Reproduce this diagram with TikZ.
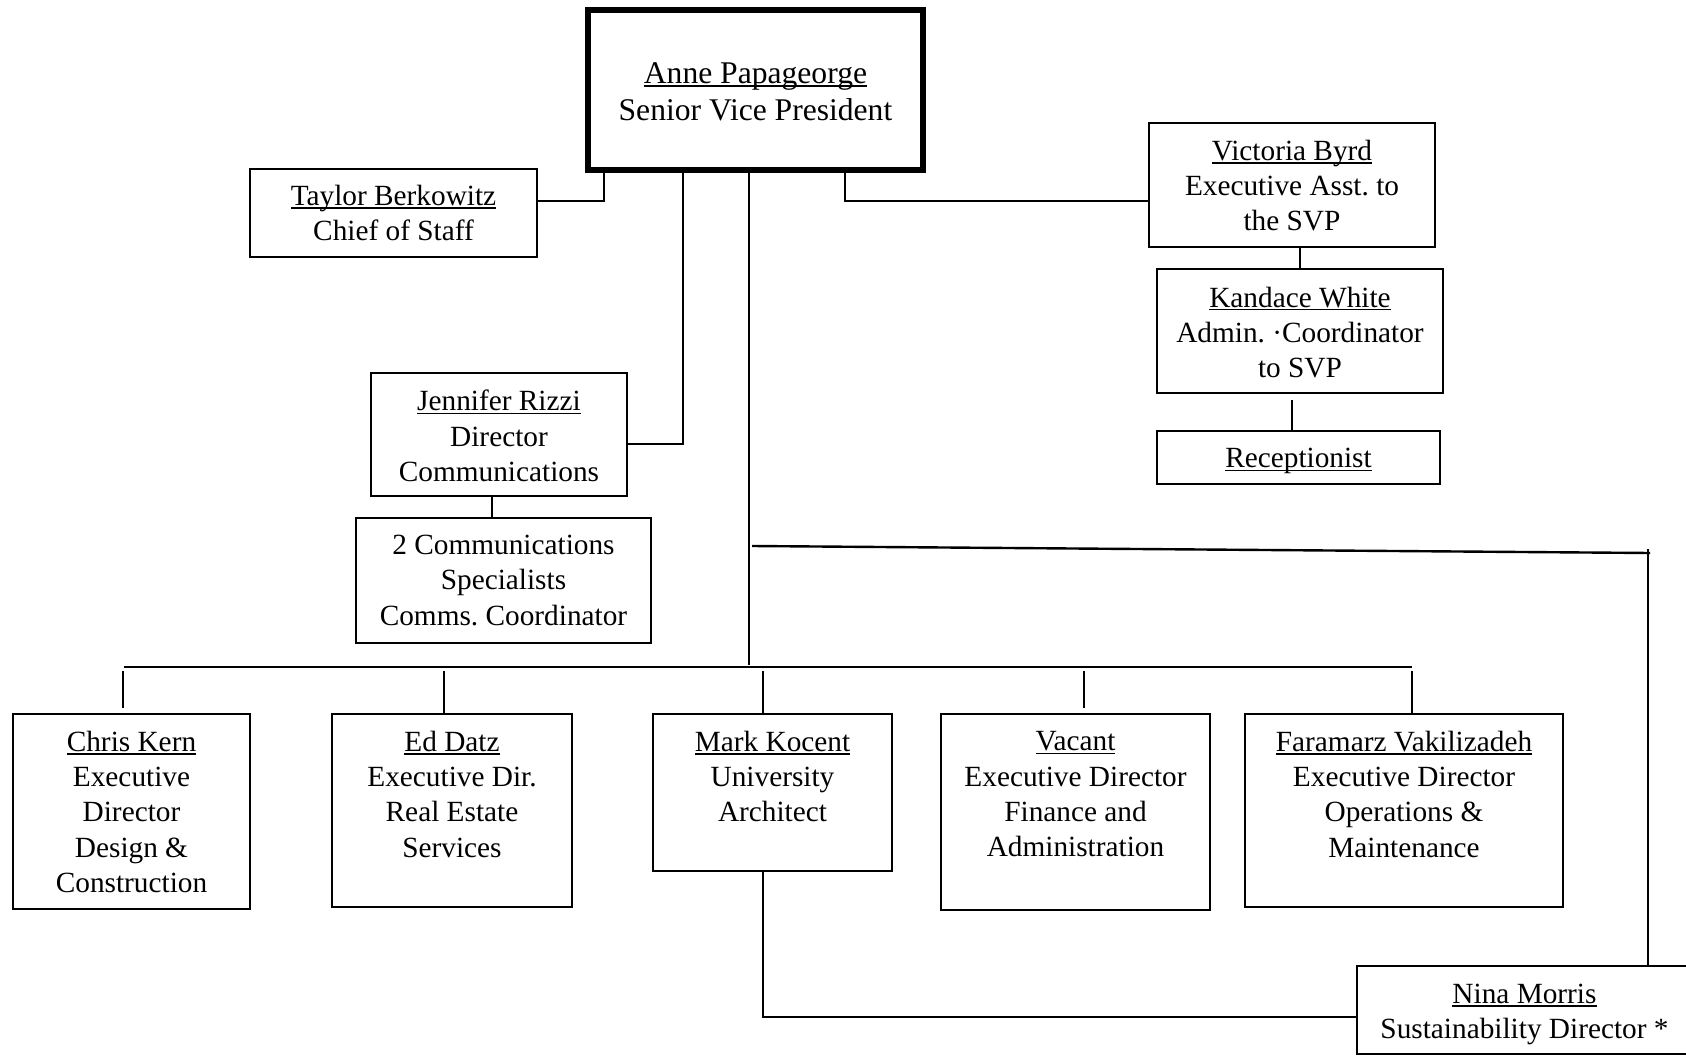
\documentclass[tikz,border=0pt]{standalone}
\usepackage{fontspec}
\setmainfont{Liberation Serif}
\frenchspacing
\newsavebox\nmbox
\newcommand\nm[1]{\sbox\nmbox{#1}\rlap{\rule[-0.11em]{\wd\nmbox}{0.05em}}\usebox\nmbox}
\begin{document}
\begin{tikzpicture}[x=1pt,y=-1pt,
  box/.style={draw, line width=1.8pt, inner sep=0pt, rectangle},
  txt/.style={anchor=north, align=center, inner sep=0pt, font=\fontsize{29.3}{35.2}\selectfont},
  conn/.style={line width=1.8pt}]
\useasboundingbox (0,0) rectangle (1686,1056);
\clip (0,0) rectangle (1686,1056);
% boxes
\node[box, line width=5.5pt, minimum width=335pt, minimum height=160pt] (anne) at (755.5,90) {};
\node[box, minimum width=287pt, minimum height=88pt] (taylor) at (393.5,213) {};
\node[box, minimum width=286pt, minimum height=124pt] (victoria) at (1292,185) {};
\node[box, minimum width=286pt, minimum height=124pt] (kandace) at (1300,331) {};
\node[box, minimum width=283pt, minimum height=53pt] (recep) at (1298.5,457.5) {};
\node[box, minimum width=256pt, minimum height=123pt] (jennifer) at (499,434.5) {};
\node[box, minimum width=295pt, minimum height=125pt] (comms) at (503.5,580.5) {};
\node[box, minimum width=237pt, minimum height=195pt] (chris) at (131.5,811.5) {};
\node[box, minimum width=240pt, minimum height=193pt] (ed) at (452,810.5) {};
\node[box, minimum width=239pt, minimum height=157pt] (mark) at (772.5,792.5) {};
\node[box, minimum width=269pt, minimum height=196pt] (vacant) at (1075.5,812) {};
\node[box, minimum width=318pt, minimum height=193pt] (faramarz) at (1404,810.5) {};
\node[box, minimum width=335pt, minimum height=88pt] (nina) at (1524.5,1010) {};
% texts
\node[txt, font=\fontsize{31.6}{36.7}\selectfont] (anne-t) at (755.5,62.4) {\nm{Anne Papageorge}\\Senior Vice President};
\node[txt] (taylor-t) at (393.5,185) {\nm{Taylor Berkowitz}\\Chief of Staff};
\node[txt] (victoria-t) at (1292,140) {\nm{Victoria Byrd}\\Executive Asst. to\\the SVP};
\node[txt] (kandace-t) at (1300,286.7) {\nm{Kandace White}\\Admin. ·Coordinator\\to SVP};
\node[txt] (recep-t) at (1298.5,448.3) {\nm{Receptionist}};
\node[txt] (jennifer-t) at (499,390) {\nm{Jennifer Rizzi}\\Director\\Communications};
\node[txt] (comms-t) at (503.5,535) {2 Communications\\Specialists\\Comms. Coordinator};
\node[txt] (chris-t) at (131.5,731) {\nm{Chris Kern}\\Executive\\Director\\Design \&\\Construction};
\node[txt] (ed-t) at (452,731) {\nm{Ed Datz}\\Executive Dir.\\Real Estate\\Services};
\node[txt] (mark-t) at (772.5,731) {\nm{Mark Kocent}\\University\\Architect};
\node[txt] (vacant-t) at (1075.5,731.6) {\nm{Vacant}\\Executive Director\\Finance and\\Administration};
\node[txt] (faramarz-t) at (1404,731) {\nm{Faramarz Vakilizadeh}\\Executive Director\\Operations \&\\Maintenance};
\node[txt] (nina-t) at (1524.5,984) {\nm{Nina Morris}\\Sustainability Director *};
% connector coordinates
\coordinate (tj) at (604,201);
\coordinate (jr) at (683,444);
\coordinate (mx) at (749,665);
\coordinate (vc) at (845,201);
\coordinate (kr) at (1292,400);
\coordinate (jc) at (492,0);
\coordinate (busL) at (124,667);
\coordinate (busR) at (1412,667);
\coordinate (dchris) at (123,671);
\coordinate (ded) at (444,671);
\coordinate (dmark) at (763,671);
\coordinate (dvacant) at (1084,671);
\coordinate (dfar) at (1412,671);
\coordinate (s1) at (752,546);
\coordinate (s2) at (1650,553);
\coordinate (nv) at (1648,549);
\coordinate (mn) at (763,1017);
% connectors
\draw[conn] (taylor.east |- tj) -- (tj) -- (tj |- anne.south);
\draw[conn] (anne.south -| jr) -- (jr) -- (jennifer.east |- jr);
\draw[conn] (anne.south -| mx) -- (mx);
\draw[conn] (anne.south -| vc) -- (vc) -- (victoria.west |- vc);
\draw[conn] (victoria.south -| kandace.north) -- (kandace.north);
\draw[conn] (kr) -- (kr |- recep.north);
\draw[conn] (jennifer.south -| jc) -- (comms.north -| jc);
\draw[conn] (busL) -- (busR);
\draw[conn] (dchris) -- ++(0,37);
\draw[conn] (ded) -- (ded |- ed.north);
\draw[conn] (dmark) -- (dmark |- mark.north);
\draw[conn] (dvacant) -- ++(0,37);
\draw[conn] (dfar) -- (dfar |- faramarz.north);
\draw[line width=2.4pt] (s1) -- (s2);
\draw[conn] (nv) -- (nv |- nina.north);
\draw[conn] (mark.south -| mn) -- (mn) -- (nina.west |- mn);
\end{tikzpicture}
\end{document}
